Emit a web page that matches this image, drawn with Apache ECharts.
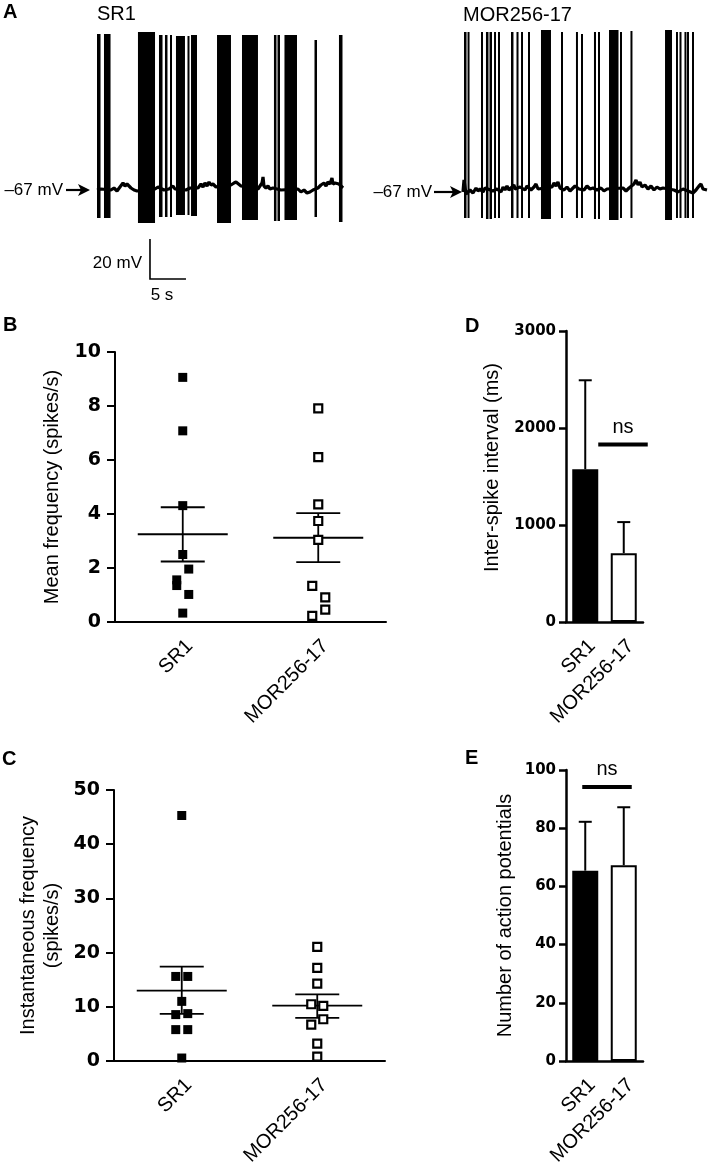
<!DOCTYPE html>
<html><head><meta charset="utf-8">
<script src="https://cdn.jsdelivr.net/npm/echarts@6/dist/echarts.min.js"></script>
<style>html,body{margin:0;padding:0;background:#fff}#c{width:709px;height:1169px}</style>
</head><body><div id="c"></div>
<script>
// ---------------- DATA ----------------
const groups = ['SR1', 'MOR256-17'];

// Panel A: SR1 trace (time s, membrane potential mV)
const sr1Baseline = [[0,-67],[0.56,-66.5],[0.83,-67.5],[1.94,-67],[2.36,-66],[2.78,-67.5],[3.19,-65.5],[3.61,-63.5],[3.89,-65],[4.17,-64],[4.44,-64.5],[4.72,-66],[5.14,-67],[5.56,-67.5],[8.06,-66.5],[8.47,-65.5],[9.31,-67],[10.0,-66.5],[10.56,-65],[10.83,-66.5],[12.36,-67],[12.92,-66],[14.03,-66],[14.44,-64],[14.72,-65.5],[15.0,-63.5],[15.28,-65],[15.56,-63],[15.83,-64.5],[16.11,-64],[16.53,-65.5],[18.61,-64.5],[19.03,-63.5],[19.31,-63],[19.58,-64],[20.0,-65],[22.36,-66.5],[22.64,-65],[22.92,-63.5],[23.06,-60.5],[23.19,-65],[23.47,-66],[23.75,-65],[24.03,-66.5],[24.44,-66],[25.56,-67],[27.92,-66.5],[28.33,-68],[28.75,-67],[29.17,-68.5],[29.58,-68],[30.0,-67],[30.69,-66],[31.11,-64.5],[31.53,-63.5],[31.81,-65],[32.08,-63],[32.36,-64],[32.64,-61],[32.78,-64],[33.06,-63.5],[33.33,-64.5],[33.61,-64],[34.17,-66]];
// spikes / bursts: [start s, end s, peak mV, trough mV]
const sr1Spikes = [[0,0.49,11,-81],[0.97,1.88,11,-81],[5.69,8.06,12,-83.5],[8.61,9.10,10.5,-80.5],[9.44,9.79,10.5,-80.5],[10.14,10.42,10.5,-80.5],[10.97,12.22,10,-79.5],[12.57,12.78,10,-79.5],[13.06,13.89,10.5,-80],[16.67,18.61,10.5,-83.5],[20.14,22.36,10.5,-82],[24.58,24.93,10.5,-82.5],[25.07,25.42,10.5,-82.5],[26.04,27.78,10.5,-82],[30.21,30.56,8,-80.5],[33.61,34.1,10.5,-83]];

// Panel A: MOR256-17 trace
const morBaseline = [[0,-67],[0.14,-61],[0.42,-68],[0.97,-66],[1.39,-67.5],[1.81,-65],[2.08,-66.5],[2.36,-65.5],[2.78,-67],[3.06,-65],[4.17,-66.5],[4.72,-65.5],[5.28,-67],[5.56,-64.5],[5.83,-66],[6.11,-64],[6.39,-66],[7.08,-63.5],[7.22,-65.5],[7.92,-64.5],[8.61,-66],[8.89,-64],[9.44,-66],[9.86,-64.5],[10.14,-63],[10.42,-65.5],[10.69,-65],[12.36,-64.5],[12.64,-62.5],[12.92,-64],[13.19,-62],[13.47,-65],[14.03,-66],[14.44,-64.5],[14.86,-66.5],[15.28,-65],[15.56,-64],[16.11,-65.5],[16.81,-66],[17.22,-64],[17.64,-65.5],[18.06,-65],[18.61,-66],[19.17,-65],[19.58,-66.5],[20.0,-65.5],[22.22,-65],[22.64,-66.5],[23.06,-65],[23.75,-63],[24.03,-61],[24.31,-63.5],[24.58,-62],[24.86,-64.5],[25.28,-63.5],[25.69,-65.5],[26.11,-64],[26.53,-66],[26.94,-64.5],[27.36,-65.5],[27.78,-65],[29.31,-66],[29.86,-67],[30.56,-65.5],[31.25,-66.5],[31.94,-67.5],[32.36,-66],[32.78,-64],[33.06,-63],[33.33,-65.5],[33.89,-66]];
const morSpikes = [[0.14,0.49,13,-80],[0.63,0.83,13,-80],[2.5,2.71,13,-80],[3.19,3.54,13,-80.5],[3.68,4.03,13,-80.5],[4.31,4.51,13,-80],[4.86,5.07,13,-80],[6.67,7.01,13,-80],[7.43,7.71,13,-80],[8.06,8.33,13,-80],[9.03,9.24,13,-80],[10.83,12.22,14,-80.5],[13.61,13.82,13,-80],[15.69,15.9,13,-80],[16.39,16.6,12,-80],[18.19,18.47,13,-80.5],[18.75,18.96,13,-80.5],[20.28,21.6,14,-81],[21.81,22.01,13,-80],[23.26,23.47,13.5,-80],[28.06,29.03,14,-81],[29.58,29.79,13,-80],[30.07,30.28,13,-80],[30.76,30.97,13,-80],[31.11,31.32,13,-80],[31.81,32.01,13,-80]];
const restPotential = -67;      // mV, arrow level
const scaleBarMV = 20;          // mV
const scaleBarS = 5;            // s

// Panel B: mean frequency (spikes/s)
const meanFreqSR1 = [9.06, 7.08, 4.31, 2.50, 1.96, 1.56, 1.35, 1.02, 0.33];
const meanFreqMOR = [7.91, 6.11, 4.36, 3.74, 3.04, 1.34, 0.91, 0.46, 0.23];
const meanFreqStats = [[3.25, 2.24, 4.25], [3.12, 2.22, 4.03]]; // mean, -SEM, +SEM

// Panel C: instantaneous frequency (spikes/s)
const instFreqSR1 = [45.3, 15.6, 15.6, 11.0, 8.56, 8.74, 5.79, 5.79, 0.55];
const instFreqMOR = [21.06, 17.18, 14.29, 10.47, 10.16, 7.70, 6.71, 3.20, 0.80];
const instFreqStats = [[13.0, 8.68, 17.4], [10.2, 7.94, 12.3]];

// Panel D: inter-spike interval (ms)
const isiMean = [1575, 710];
const isiUpper = [2492, 1030];
const isiNsLevel = 1830;

// Panel E: number of action potentials
const apMean = [65.4, 67.3];
const apUpper = [82.2, 87.2];
const apNsLevel = 94.2;

// horizontal jitter of overlapping points (px, style only)
const jitterB_SR1 = [0,0,0,0,6,-6,-6,6,0];
const jitterB_MOR = [0,0,0,0,0,-6,7,7,-6];
const jitterC_SR1 = [0,-6,6,0,-6,6,-6,6,0];
const jitterC_MOR = [0,0,0,-6,6,6,-6,0,0];

// ---------------- CHART ----------------
const FONT = '"Liberation Sans", Arial, Helvetica, sans-serif';
const NUMFONT = '"DejaVu Sans", "Liberation Sans", sans-serif';
const BLACK = '#000';

const chart = echarts.init(document.getElementById('c'), null, {renderer: 'canvas'});

function hiddenAxis(gi, min, max) {
  return {gridIndex: gi, type: 'value', min: min, max: max, show: false, splitLine: {show: false}};
}
function catAxis(gi, tickLen, lw) {
  return {
    gridIndex: gi, type: 'category', data: groups, boundaryGap: true,
    axisLine: {lineStyle: {color: BLACK, width: lw}},
    axisTick: {alignWithLabel: true, length: tickLen, lineStyle: {color: BLACK, width: lw}},
    axisLabel: {rotate: 45, interval: 0, fontSize: 20, color: BLACK, fontFamily: FONT,
      margin: 14, align: 'right', verticalAlign: 'top'},
    splitLine: {show: false}
  };
}
function valAxis(gi, max, interval, name, nameGap, fs, tickLen, margin, lw, namePad) {
  return {
    gridIndex: gi, type: 'value', min: 0, max: max, interval: interval,
    name: name, nameLocation: 'middle', nameGap: nameGap, nameRotate: 90,
    nameTextStyle: {fontSize: 20, color: BLACK, fontFamily: FONT, lineHeight: 24, padding: namePad || 0},
    axisLine: {show: true, lineStyle: {color: BLACK, width: lw}},
    axisTick: {show: true, length: tickLen, lineStyle: {color: BLACK, width: lw}},
    axisLabel: {fontSize: fs, fontWeight: 'bold', color: BLACK, fontFamily: NUMFONT, margin: margin,
      formatter: v => String(v)},
    splitLine: {show: false}
  };
}

function spikeRender(params, api) {
  const a = api.coord([api.value(0), api.value(2)]);
  const b = api.coord([api.value(1), api.value(3)]);
  const w = Math.max(b[0] - a[0], 2);
  return {type: 'rect', shape: {x: a[0], y: a[1], width: w, height: b[1] - a[1]}, style: {fill: BLACK}};
}
function arrowRender(tipGap, len, textGap) {
  return function (params, api) {
    const p = api.coord([api.value(0), api.value(1)]);
    const tip = p[0] - tipGap, y = p[1];
    return {type: 'group', children: [
      {type: 'line', shape: {x1: tip - len, y1: y, x2: tip - 8, y2: y}, style: {stroke: BLACK, lineWidth: 2.2}},
      {type: 'polygon', shape: {points: [[tip, y], [tip - 12, y - 6], [tip - 9, y], [tip - 12, y + 6]]}, style: {fill: BLACK}},
      {type: 'text', x: tip - len - textGap, y: y, style: {text: '\u201367 mV', fontSize: 17, fontFamily: FONT, fill: BLACK, align: 'right', verticalAlign: 'middle'}}
    ]};
  };
}
function scaleBarRender(params, api) {
  const t0 = api.value(0), v0 = api.value(1);
  const c = api.coord([t0, v0]);
  const top = api.coord([t0, v0 + scaleBarMV]);
  const right = api.coord([t0 + scaleBarS, v0]);
  const st = {stroke: BLACK, lineWidth: 1.6};
  return {type: 'group', children: [
    {type: 'polyline', shape: {points: [top, c, right]}, style: Object.assign({fill: null}, st)},
    {type: 'text', x: c[0] - 8, y: (c[1] + top[1]) / 2 + 4, style: {text: scaleBarMV + ' mV', fontSize: 17, fontFamily: FONT, fill: BLACK, align: 'right', verticalAlign: 'middle'}},
    {type: 'text', x: c[0] + 12, y: c[1] + 16, style: {text: scaleBarS + ' s', fontSize: 17, fontFamily: FONT, fill: BLACK, align: 'center', verticalAlign: 'middle'}}
  ]};
}
function statsRender(halfMean, halfCap) {
  return function (params, api) {
    const m = api.coord([api.value(0), api.value(1)]);
    const lo = api.coord([api.value(0), api.value(2)]);
    const hi = api.coord([api.value(0), api.value(3)]);
    const st = {stroke: BLACK, lineWidth: 1.8};
    return {type: 'group', children: [
      {type: 'line', shape: {x1: m[0] - halfMean, y1: m[1], x2: m[0] + halfMean, y2: m[1]}, style: st},
      {type: 'line', shape: {x1: m[0], y1: lo[1], x2: m[0], y2: hi[1]}, style: st},
      {type: 'line', shape: {x1: m[0] - halfCap, y1: lo[1], x2: m[0] + halfCap, y2: lo[1]}, style: st},
      {type: 'line', shape: {x1: m[0] - halfCap, y1: hi[1], x2: m[0] + halfCap, y2: hi[1]}, style: st}
    ]};
  };
}
function errRender(params, api) {
  const m = api.coord([api.value(0), api.value(1)]);
  const hi = api.coord([api.value(0), api.value(2)]);
  const st = {stroke: BLACK, lineWidth: 2};
  return {type: 'group', children: [
    {type: 'line', shape: {x1: m[0], y1: m[1], x2: m[0], y2: hi[1]}, style: st},
    {type: 'line', shape: {x1: m[0] - 6.5, y1: hi[1], x2: m[0] + 6.5, y2: hi[1]}, style: st}
  ]};
}
function nsRender(offL, offR) {
  return function (params, api) {
    const v = api.value(1);
    const p0 = api.coord([0, v]), p1 = api.coord([1, v]);
    const x1 = p0[0] + offL, x2 = p1[0] + offR, y = p0[1];
    return {type: 'group', children: [
      {type: 'line', shape: {x1: x1, y1: y, x2: x2, y2: y}, style: {stroke: BLACK, lineWidth: 4}},
      {type: 'text', x: (x1 + x2) / 2, y: y - 17, style: {text: 'ns', fontSize: 20, fontFamily: FONT, fill: BLACK, align: 'center', verticalAlign: 'middle'}}
    ]};
  };
}
function scatterData(cat, vals, jit) {
  return vals.map((v, i) => ({value: [cat, v], symbolOffset: [jit[i], 0]}));
}
const filledSq = {type: 'scatter', symbol: 'rect', symbolSize: 9, itemStyle: {color: BLACK, opacity: 1}, z: 5};
const openSq = {type: 'scatter', symbol: 'rect', symbolSize: 8, itemStyle: {color: '#fff', borderColor: BLACK, borderWidth: 2.2, opacity: 1}, z: 5};
const barFills = [BLACK, '#fff'];

// scale-bar anchor (corner) in SR1 trace coordinates
const scaleAnchor = [[7.36, -111.5]];

const option = {
  animation: false,
  backgroundColor: '#fff',
  textStyle: {fontFamily: FONT},
  grid: [
    {left: 97, top: 30, width: 246, height: 260},
    {left: 463, top: 32, width: 244, height: 260},
    {left: 115, top: 352, width: 271, height: 270},
    {left: 114, top: 790, width: 271, height: 271},
    {left: 566, top: 331, width: 77, height: 291},
    {left: 566, top: 770, width: 77, height: 291}
  ],
  xAxis: [
    hiddenAxis(0, 0, 34.17),
    hiddenAxis(1, 0, 33.89),
    catAxis(2, 7, 2),
    catAxis(3, 7, 2),
    catAxis(4, 5, 2.5),
    catAxis(5, 5, 2.5)
  ],
  yAxis: [
    hiddenAxis(0, -117, 13),
    hiddenAxis(1, -117, 13),
    valAxis(2, 10, 2, 'Mean frequency (spikes/s)', 51, 19, 8, 14, 2),
    valAxis(3, 50, 10, 'Instantaneous frequency\n(spikes/s)', 50, 19, 8, 14, 2),
    valAxis(4, 3000, 1000, 'Inter-spike interval (ms)', 62, 15, 7, 10, 2.5, [0, 0, 0, 18]),
    valAxis(5, 100, 20, 'Number of action potentials', 49, 15, 7, 10, 2.5)
  ],
  graphic: [
    {type: 'text', x: 3, y: 12.5, style: {text: 'A', fontSize: 20, fontWeight: 'bold', fontFamily: FONT, fill: BLACK, verticalAlign: 'middle'}},
    {type: 'text', x: 3, y: 325.5, style: {text: 'B', fontSize: 20, fontWeight: 'bold', fontFamily: FONT, fill: BLACK, verticalAlign: 'middle'}},
    {type: 'text', x: 2, y: 759, style: {text: 'C', fontSize: 20, fontWeight: 'bold', fontFamily: FONT, fill: BLACK, verticalAlign: 'middle'}},
    {type: 'text', x: 465, y: 326.5, style: {text: 'D', fontSize: 20, fontWeight: 'bold', fontFamily: FONT, fill: BLACK, verticalAlign: 'middle'}},
    {type: 'text', x: 465, y: 758.5, style: {text: 'E', fontSize: 20, fontWeight: 'bold', fontFamily: FONT, fill: BLACK, verticalAlign: 'middle'}},
    {type: 'text', x: 97, y: 14.5, style: {text: 'SR1', fontSize: 20, fontFamily: FONT, fill: BLACK, verticalAlign: 'middle'}},
    {type: 'text', x: 463, y: 15, style: {text: 'MOR256-17', fontSize: 20, fontFamily: FONT, fill: BLACK, verticalAlign: 'middle'}}
  ],
  series: [
    // A: SR1
    {type: 'line', xAxisIndex: 0, yAxisIndex: 0, data: sr1Baseline, symbol: 'none', lineStyle: {color: BLACK, width: 3.2}, silent: true},
    {type: 'custom', xAxisIndex: 0, yAxisIndex: 0, data: sr1Spikes, renderItem: spikeRender, encode: {x: [0, 1], y: [2, 3]}, silent: true},
    {type: 'custom', xAxisIndex: 0, yAxisIndex: 0, data: [[0, restPotential]], renderItem: arrowRender(7, 24, 3), clip: false, silent: true},
    {type: 'custom', xAxisIndex: 0, yAxisIndex: 0, data: scaleAnchor, renderItem: scaleBarRender, clip: false, silent: true},
    // A: MOR256-17
    {type: 'line', xAxisIndex: 1, yAxisIndex: 1, data: morBaseline, symbol: 'none', lineStyle: {color: BLACK, width: 3.2}, silent: true},
    {type: 'custom', xAxisIndex: 1, yAxisIndex: 1, data: morSpikes, renderItem: spikeRender, encode: {x: [0, 1], y: [2, 3]}, silent: true},
    {type: 'custom', xAxisIndex: 1, yAxisIndex: 1, data: [[0, restPotential]], renderItem: arrowRender(1, 28, 2), clip: false, silent: true},
    // B
    Object.assign({xAxisIndex: 2, yAxisIndex: 2, data: scatterData(0, meanFreqSR1, jitterB_SR1)}, filledSq),
    Object.assign({xAxisIndex: 2, yAxisIndex: 2, data: scatterData(1, meanFreqMOR, jitterB_MOR)}, openSq),
    {type: 'custom', xAxisIndex: 2, yAxisIndex: 2, data: meanFreqStats.map((s, i) => [i, s[0], s[1], s[2]]), renderItem: statsRender(45, 22), clip: false, z: 4},
    // C
    Object.assign({xAxisIndex: 3, yAxisIndex: 3, data: scatterData(0, instFreqSR1, jitterC_SR1)}, filledSq),
    Object.assign({xAxisIndex: 3, yAxisIndex: 3, data: scatterData(1, instFreqMOR, jitterC_MOR)}, openSq),
    {type: 'custom', xAxisIndex: 3, yAxisIndex: 3, data: instFreqStats.map((s, i) => [i, s[0], s[1], s[2]]), renderItem: statsRender(45, 22), clip: false, z: 4},
    // D
    {type: 'bar', xAxisIndex: 4, yAxisIndex: 4, data: isiMean, barWidth: 26,
      itemStyle: {color: p => barFills[p.dataIndex], borderColor: BLACK, borderWidth: 2}},
    {type: 'custom', xAxisIndex: 4, yAxisIndex: 4, data: isiMean.map((m, i) => [i, m, isiUpper[i]]), renderItem: errRender, clip: false, z: 4},
    {type: 'custom', xAxisIndex: 4, yAxisIndex: 4, data: [[0, isiNsLevel]], renderItem: nsRender(13, 24), clip: false, z: 4},
    // E
    {type: 'bar', xAxisIndex: 5, yAxisIndex: 5, data: apMean, barWidth: 26,
      itemStyle: {color: p => barFills[p.dataIndex], borderColor: BLACK, borderWidth: 2}},
    {type: 'custom', xAxisIndex: 5, yAxisIndex: 5, data: apMean.map((m, i) => [i, m, apUpper[i]]), renderItem: errRender, clip: false, z: 4},
    {type: 'custom', xAxisIndex: 5, yAxisIndex: 5, data: [[0, apNsLevel]], renderItem: nsRender(-3, 8), clip: false, z: 4}
  ]
};
chart.setOption(option);
</script>
</body></html>
